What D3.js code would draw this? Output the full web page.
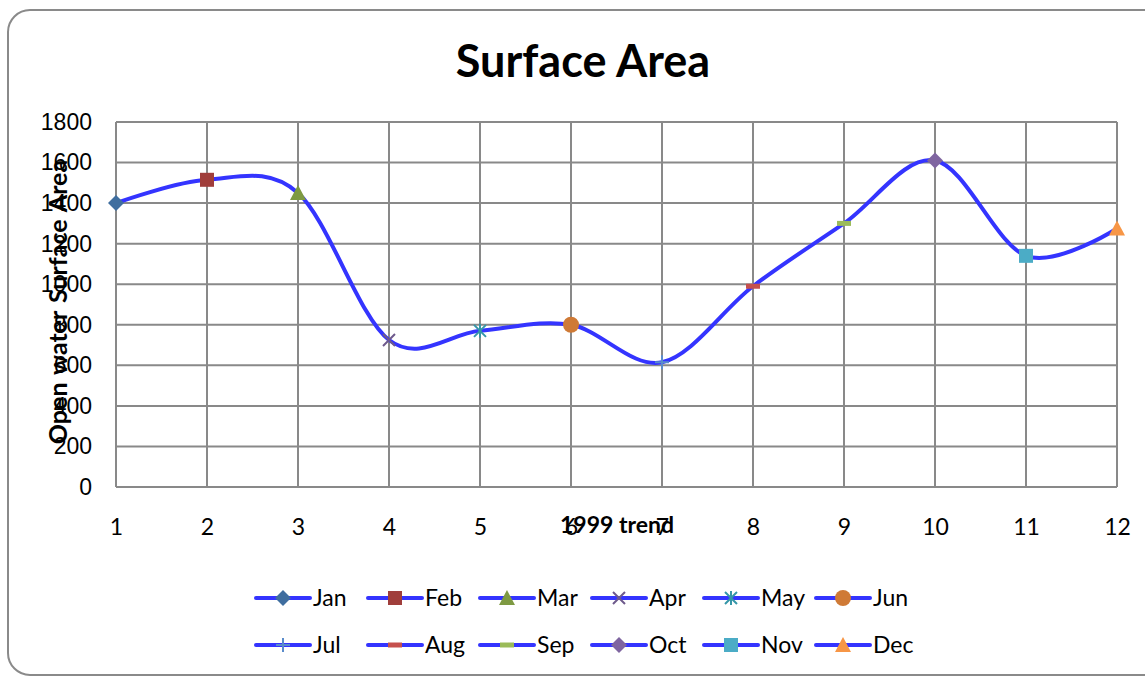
<!DOCTYPE html>
<html>
<head>
<meta charset="utf-8">
<script src="https://cdn.jsdelivr.net/npm/d3@7"></script>
<style>
  body { margin: 0; background: #ffffff; }
  svg { display: block; }
</style>
</head>
<body>
<svg id="chart" width="1145" height="676"></svg>
<script>
"use strict";

// donnees
var months = ["Jan", "Feb", "Mar", "Apr", "May", "Jun", "Jul", "Aug", "Sep", "Oct", "Nov", "Dec"];
var monthIndex = [1, 2, 3, 4, 5, 6, 7, 8, 9, 10, 11, 12];
var surfaceArea = [1400, 1515, 1450, 725, 770, 800, 615, 990, 1300, 1610, 1140, 1275];
var yTicks = [0, 200, 400, 600, 800, 1000, 1200, 1400, 1600, 1800];
var markerShapes = ["diamond", "square", "triangle", "times", "asterisk", "circle", "plus", "dash", "dash", "diamond", "square", "triangle"];
var markerColors = ["#3f6e9f", "#a03e3b", "#7e9a42", "#6e5a8c", "#3596a8", "#cf7a36", "#5a8ccb", "#c5504d", "#9bbb59", "#7f65a0", "#4bacc6", "#f79646"];

var lineColor = "#3434ff";
var gridColor = "#898989";

var svg = d3.select("#chart");

var margin = { left: 116, right: 1117, top: 122, bottom: 487 };

var x = d3.scaleLinear().domain([1, 12]).range([margin.left, margin.right]);
var y = d3.scaleLinear().domain([0, 1800]).range([margin.bottom, margin.top]);

// cadre arrondi du graphique
svg.append("rect")
  .attr("x", 8)
  .attr("y", 10)
  .attr("width", 1160)
  .attr("height", 665)
  .attr("rx", 22)
  .attr("fill", "#ffffff")
  .attr("stroke", "#8a8a8a")
  .attr("stroke-width", 2);

// titre
svg.append("text")
  .attr("x", 583)
  .attr("y", 77)
  .attr("text-anchor", "middle")
  .style("font-family", "Lato, 'Open Sans', sans-serif")
  .style("font-weight", "bold")
  .style("font-size", "45px")
  .text("Surface Area");

// grille horizontale
svg.append("g")
  .selectAll("line")
  .data(yTicks)
  .enter()
  .append("line")
  .attr("x1", margin.left)
  .attr("x2", margin.right)
  .attr("y1", function(d) { return y(d); })
  .attr("y2", function(d) { return y(d); })
  .attr("stroke", gridColor)
  .attr("stroke-width", 2);

// grille verticale
svg.append("g")
  .selectAll("line")
  .data(monthIndex)
  .enter()
  .append("line")
  .attr("x1", function(d) { return x(d); })
  .attr("x2", function(d) { return x(d); })
  .attr("y1", margin.top)
  .attr("y2", margin.bottom)
  .attr("stroke", gridColor)
  .attr("stroke-width", 2);

// axe Y
var yAxis = svg.append("g")
  .attr("transform", "translate(" + margin.left + ",0)")
  .call(d3.axisLeft(y).tickValues(yTicks).tickFormat(d3.format("d")).tickSize(0).tickPadding(24));
yAxis.select(".domain").remove();
yAxis.selectAll("text")
  .style("font-family", "'Liberation Sans', Arial, sans-serif")
  .style("font-size", "23px")
  .attr("fill", "#000");

// axe X
var xAxis = svg.append("g")
  .attr("transform", "translate(0," + margin.bottom + ")")
  .call(d3.axisBottom(x).tickValues(monthIndex).tickFormat(d3.format("d")).tickSize(0).tickPadding(32));
xAxis.select(".domain").remove();
xAxis.selectAll("text")
  .style("font-family", "Lato, 'Open Sans', sans-serif")
  .style("font-size", "23px")
  .attr("fill", "#000");

// titres des axes
svg.append("text")
  .attr("transform", "translate(67,302) rotate(-90)")
  .attr("text-anchor", "middle")
  .style("font-family", "Lato, 'Open Sans', sans-serif")
  .style("font-weight", "bold")
  .style("font-size", "25px")
  .style("word-spacing", "2px")
  .text("Open water Surface Area");

svg.append("text")
  .attr("x", 617)
  .attr("y", 533)
  .attr("text-anchor", "middle")
  .style("font-family", "Lato, 'Open Sans', sans-serif")
  .style("font-weight", "bold")
  .style("font-size", "23px")
  .text("1999 trend");

// courbe lissee
var points = monthIndex.map(function(d, i) { return [d, surfaceArea[i]]; });
var line = d3.line()
  .x(function(d) { return x(d[0]); })
  .y(function(d) { return y(d[1]); })
  .curve(d3.curveCardinal.tension(0));

svg.append("path")
  .datum(points)
  .attr("d", line)
  .attr("fill", "none")
  .attr("stroke", lineColor)
  .attr("stroke-width", 4);

// dessine un marqueur a la position (cx, cy)
function marker(g, shape, color, cx, cy) {
  var s = 7;
  var m = g.append("g").attr("transform", "translate(" + cx + "," + cy + ")");
  if (shape == "diamond") {
    m.append("path").attr("d", "M0," + (-s - 1) + "L" + (s + 1) + ",0L0," + (s + 1) + "L" + (-s - 1) + ",0Z").attr("fill", color);
  } else if (shape == "square") {
    m.append("rect").attr("x", -s).attr("y", -s).attr("width", 2 * s).attr("height", 2 * s).attr("fill", color);
  } else if (shape == "triangle") {
    m.append("path").attr("d", "M0," + (-s - 1) + "L" + (s + 1) + "," + (s) + "L" + (-s - 1) + "," + (s) + "Z").attr("fill", color);
  } else if (shape == "circle") {
    m.append("circle").attr("r", s + 1).attr("fill", color);
  } else if (shape == "times") {
    m.append("path").attr("d", "M-6,-6L6,6M-6,6L6,-6").attr("stroke", color).attr("stroke-width", 2);
  } else if (shape == "asterisk") {
    m.append("path").attr("d", "M-6,-6L6,6M-6,6L6,-6M0,-7L0,7").attr("stroke", color).attr("stroke-width", 2);
  } else if (shape == "plus") {
    m.append("path").attr("d", "M-7,0L7,0M0,-7L0,7").attr("stroke", color).attr("stroke-width", 2);
  } else if (shape == "dash") {
    m.append("rect").attr("x", -7).attr("y", -2.5).attr("width", 14).attr("height", 5).attr("fill", color);
  }
}

var markers = svg.append("g");
points.forEach(function(p, i) {
  marker(markers, markerShapes[i], markerColors[i], x(p[0]), y(p[1]));
});

// legende
var legendStart = 256;
var colWidth = 112;
var lineLen = 54;
var rowY = [598, 645];

var legend = svg.append("g").attr("class", "legend");
months.forEach(function(name, i) {
  var col = i % 6;
  var row = Math.floor(i / 6);
  var lx = legendStart + col * colWidth;
  var ly = rowY[row];
  legend.append("line")
    .attr("x1", lx)
    .attr("x2", lx + lineLen)
    .attr("y1", ly)
    .attr("y2", ly)
    .attr("stroke", lineColor)
    .attr("stroke-width", 4)
    .attr("stroke-linecap", "round");
  marker(legend, markerShapes[i], markerColors[i], lx + lineLen / 2, ly);
  legend.append("text")
    .attr("x", lx + lineLen + 3)
    .attr("y", ly + 8)
    .style("font-family", "Lato, 'Open Sans', sans-serif")
    .style("font-size", "23px")
    .text(name);
});
</script>
</body>
</html>
